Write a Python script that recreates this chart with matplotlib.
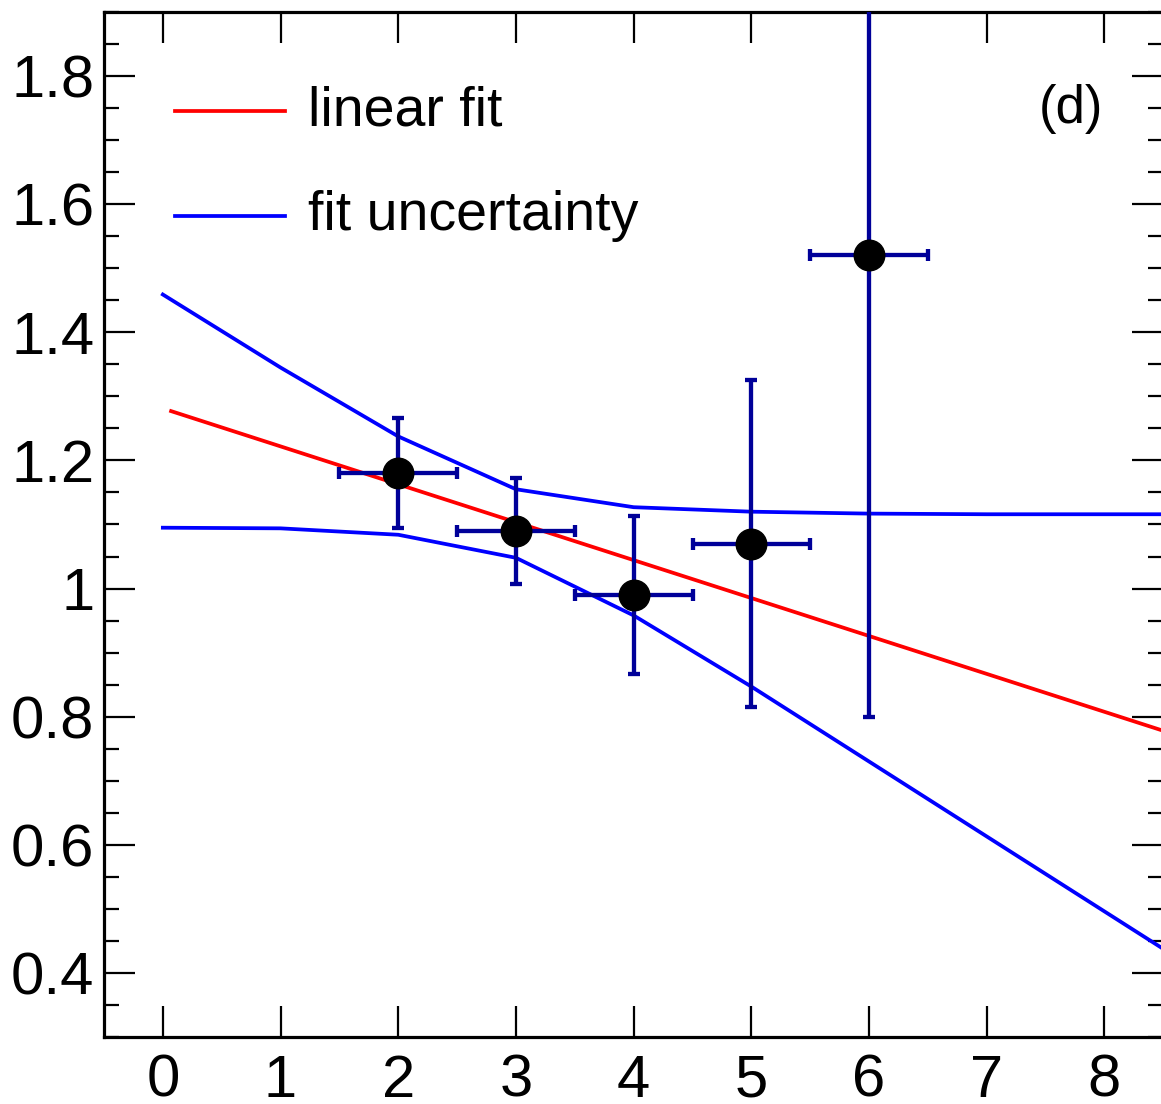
import matplotlib
matplotlib.use("Agg")
import matplotlib.pyplot as plt
import numpy as np
from matplotlib.ticker import MultipleLocator

plt.rcParams['font.family'] = ['Liberation Sans', 'DejaVu Sans']

# measured points
x_pts = [2, 3, 4, 5, 6]
y_pts = [1.18, 1.09, 0.99, 1.07, 1.52]
x_err = [0.5, 0.5, 0.5, 0.5, 0.5]
y_err = [0.086, 0.083, 0.124, 0.255, 0.72]

# linear fit
fit_x = [0.07, 8.5]
fit_y = [1.277, 0.778]

# fit uncertainty band edges
band_x = [0, 1, 2, 3, 4, 5, 6, 7, 8, 8.5]
band_hi = [1.459, 1.345, 1.2375, 1.155, 1.127, 1.120, 1.117, 1.116, 1.116, 1.116]
band_lo = [1.095, 1.094, 1.084, 1.048, 0.958, 0.847, 0.730, 0.613, 0.496, 0.4375]

yticks = [0.4, 0.6, 0.8, 1.0, 1.2, 1.4, 1.6, 1.8]
ytick_labels = ['0.4', '0.6', '0.8', '1', '1.2', '1.4', '1.6', '1.8']

fig = plt.figure(figsize=(11.61, 11.04), dpi=100)
ax = fig.add_axes([104/1161, 1 - 1037/1104, 1 - 104/1161 + 0.002, (1037 - 12)/1104])

ax.plot(band_x, band_hi, color='#0000ff', lw=2.7, zorder=2)
ax.plot(band_x, band_lo, color='#0000ff', lw=2.7, zorder=2)
ax.plot(fit_x, fit_y, color='#ff0000', lw=2.7, zorder=3)

ax.errorbar(x_pts, y_pts, xerr=x_err, yerr=y_err, fmt='o', color='black',
            ms=22, ecolor='#000099', elinewidth=3.1, capsize=4, capthick=3.1,
            zorder=4)

ax.set_xlim(-0.5, 8.5)
ax.set_ylim(0.3, 1.9)

ax.xaxis.set_major_locator(MultipleLocator(1))
ax.yaxis.set_minor_locator(MultipleLocator(0.05))
ax.set_yticks(yticks)
ax.set_yticklabels(ytick_labels)

ax.tick_params(which='both', direction='in', top=True, right=True,
               labelsize=43, width=1.6)
ax.tick_params(axis='y', pad=7)
ax.tick_params(axis='x', pad=12)
ax.tick_params(which='major', length=22)
ax.tick_params(which='minor', length=11)
for s in ax.spines.values():
    s.set_linewidth(2.3)

# legend drawn by hand in axes coordinates
ax.plot([0.067, 0.171], [0.903, 0.903], transform=ax.transAxes, color='#ff0000', lw=2.7)
ax.plot([0.067, 0.171], [0.801, 0.801], transform=ax.transAxes, color='#0000ff', lw=2.7)
ax.text(0.193, 0.903, 'linear fit', transform=ax.transAxes, fontsize=40, va='center')
ax.text(0.193, 0.801, 'fit uncertainty', transform=ax.transAxes, fontsize=40, va='center')
ax.text(0.882, 0.905, '(d)', transform=ax.transAxes, fontsize=38, va='center')

fig.savefig('out.png', dpi=100)
